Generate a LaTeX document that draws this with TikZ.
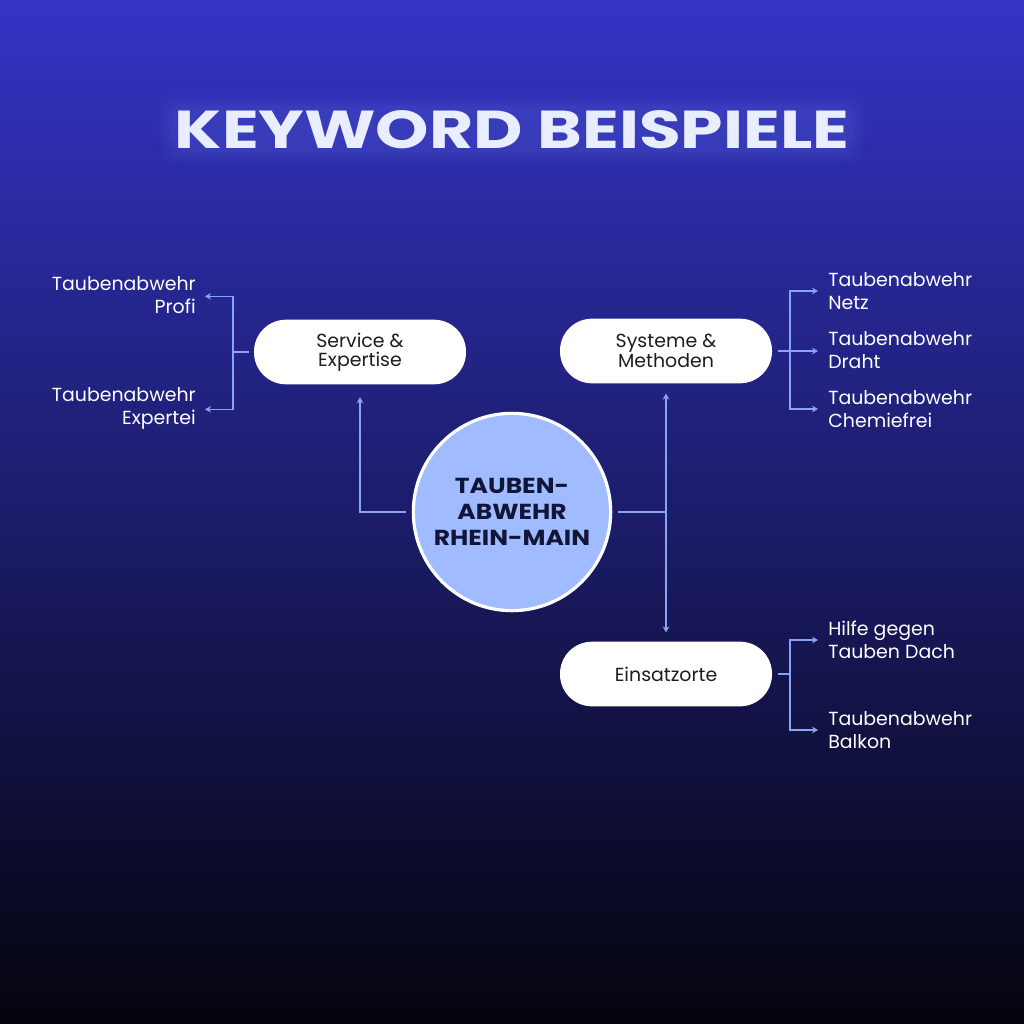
\documentclass[tikz,border=0pt]{standalone}
\usepackage{fontspec}
\setmainfont{Poppins}
\usetikzlibrary{arrows.meta,calc}
\definecolor{bgtop}{RGB}{52,52,198}
\definecolor{bgmid}{RGB}{28,26,98}
\definecolor{bgbot}{RGB}{4,4,14}
\definecolor{conncol}{RGB}{138,164,245}
\definecolor{hubfill}{RGB}{160,187,255}
\definecolor{hubtext}{RGB}{17,21,56}
\definecolor{titlecol}{RGB}{232,238,255}
\definecolor{glowcol}{RGB}{120,140,255}
\definecolor{pilltext}{RGB}{30,30,30}
\tikzset{
  conn/.style={draw=conncol, line width=1.2pt},
  arr/.style={conn, -{Stealth[length=4.5pt,width=5pt]}},
  pill/.style={fill=white, rounded corners=24pt, minimum width=159pt, minimum height=48.5pt,
    align=center, text=pilltext, font=\fontsize{14.2pt}{14.5pt}\selectfont, inner sep=0pt},
  hubstyle/.style={circle, fill=hubfill, draw=white, line width=2.4pt, minimum size=148pt,
    align=center, text=hubtext, font=\fontsize{16.3pt}{19.5pt}\selectfont\bfseries\addfontfeature{FakeStretch=1.15}, inner sep=0pt},
  leaf/.style={text=white, inner sep=0pt, font=\fontsize{14.2pt}{17.3pt}\selectfont},
  leafl/.style={leaf, align=left, anchor=west},
  leafr/.style={leaf, align=right, anchor=east},
}
\begin{document}
\begin{tikzpicture}[x=0.75pt, y=-0.75pt]
\useasboundingbox (0,0) rectangle (1024,1024);
\shade[top color=bgtop, middle color=bgmid, bottom color=bgbot] (0,0) rectangle (1024,1024);
% soft glow behind title
\foreach \w/\o in {14/0.025,11/0.03,8/0.035,5/0.04,2/0.05}{
  \fill[glowcol, opacity=\o, rounded corners=14pt] (172-\w,108-\w) rectangle (852+\w,150+\w);
}
\node (title) [text=titlecol, inner sep=0pt] at (512,130) {\resizebox{506pt}{28.5pt}{\bfseries KEYWORD BEISPIELE}};
% nodes
\node (hub) [hubstyle] at (512,512) {TAUBEN-\\ABWEHR\\RHEIN-MAIN};
\node (svc) [pill] at (360,352) {Service \&\\Expertise};
\node (sys) [pill] at (666,351) {Systeme \&\\Methoden};
\node (ein) [pill] at (666,674) {Einsatzorte};
% leaves
\node (l1) [leafr] at (196,295) {Taubenabwehr\\Profi};
\node (l2) [leafr] at (196,408) {Taubenabwehr\\Expertei};
\node (r1) [leafl] at (828,291) {Taubenabwehr\\Netz};
\node (r2) [leafl] at (828,350) {Taubenabwehr\\Draht};
\node (r3) [leafl] at (828,409) {Taubenabwehr\\Chemiefrei};
\node (r4) [leafl] at (828,640) {Hilfe gegen\\Tauben Dach};
\node (r5) [leafl] at (828,730) {Taubenabwehr\\Balkon};
% junctions
\coordinate (jh) at (666,512);
\coordinate (js) at (233,352);
\coordinate (jy) at (790,351);
\coordinate (je) at (790,674);
% hub connectors
\draw[arr] ([xshift=-4.5pt]hub.west) -| ([yshift=-9.5pt]svc.south);
\draw[conn] ([xshift=4.5pt]hub.east) -- (jh);
\draw[arr] (jh) -- ([yshift=-7.5pt]sys.south);
\draw[arr] (jh) -- ([yshift=6.75pt]ein.north);
% service
\draw[conn] ([xshift=-3.75pt]svc.west) -- (js);
\draw[arr] (js) |- ([xshift=6.75pt,yshift=-1pt]l1.east);
\draw[arr] (js) |- ([xshift=6.75pt,yshift=-1pt]l2.east);
% systeme
\draw[conn] ([xshift=4.5pt]sys.east) -- (jy);
\draw[arr] (jy) |- ([xshift=-7.5pt]r1.west);
\draw[arr] (jy) -- (jy -| {$(r2.west)+(-7.5pt,0)$});
\draw[arr] (jy) |- ([xshift=-7.5pt]r3.west);
% einsatz
\draw[conn] ([xshift=4.5pt]ein.east) -- (je);
\draw[arr] (je) |- ([xshift=-7.5pt]r4.west);
\draw[arr] (je) |- ([xshift=-7.5pt]r5.west);
\end{tikzpicture}
\end{document}
